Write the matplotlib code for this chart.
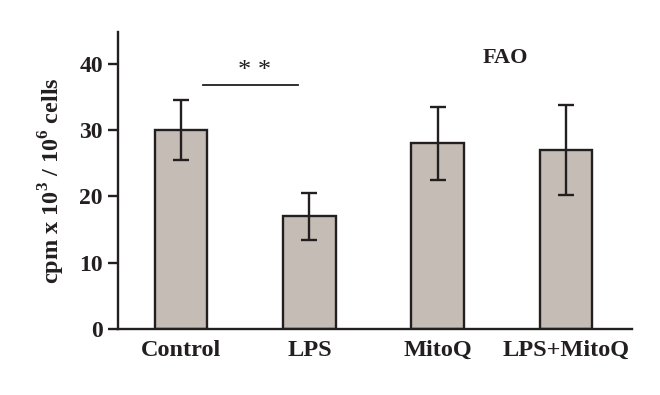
import matplotlib
matplotlib.use("Agg")
import matplotlib.pyplot as plt
import numpy as np

# data
groups = ["Control", "LPS", "MitoQ", "LPS+MitoQ"]
fao = [30.0, 17.0, 28.0, 27.0]
err = [4.5, 3.5, 5.5, 6.8]

plt.rcParams['font.family'] = ['Liberation Serif', 'DejaVu Serif']
plt.rcParams['font.weight'] = 'bold'
plt.rcParams['axes.labelweight'] = 'bold'
plt.rcParams['mathtext.fontset'] = 'custom'
plt.rcParams['mathtext.rm'] = 'Liberation Serif:bold'
plt.rcParams['mathtext.bf'] = 'Liberation Serif:bold'

ink = '#231f20'
fig = plt.figure(figsize=(6.6, 3.95), dpi=100)
ax = fig.add_axes([0.179, 0.167, 0.779, 0.752])

x = np.arange(len(groups))
ax.bar(x, fao, width=0.41, color='#c6bcb6', edgecolor=ink, linewidth=1.7, zorder=2)
ax.errorbar(x, fao, yerr=err, fmt='none', ecolor=ink, elinewidth=1.7,
            capsize=5.5, capthick=1.7, zorder=3)

# significance bar between Control and LPS
ax.plot([0.17, 0.91], [36.8, 36.8], color=ink, linewidth=1.3)
ax.text(0.57, 37.3, '* *', ha='center', va='bottom', fontsize=19,
        fontweight='normal', color=ink)
ax.text(2.53, 39.3, 'FAO', ha='center', va='bottom', fontsize=16, color=ink)

ax.set_xlim(-0.49, 3.515)
ax.set_ylim(0, 44.8)
ax.set_yticks([0, 10, 20, 30, 40])
ax.set_xticks(x)
ax.set_xticklabels(groups)
ax.tick_params(axis='y', length=7, width=1.7, labelsize=17, colors=ink, pad=4)
ax.tick_params(axis='x', length=0, labelsize=17.5, colors=ink, pad=8)
ax.set_ylabel(r'cpm x 10$^{3}$ / 10$^{6}$ cells', fontsize=17.5, color=ink, labelpad=9)

for s in ['top', 'right']:
    ax.spines[s].set_visible(False)
for s in ['left', 'bottom']:
    ax.spines[s].set_linewidth(1.7)
    ax.spines[s].set_color(ink)

fig.savefig('out.png', dpi=100)
